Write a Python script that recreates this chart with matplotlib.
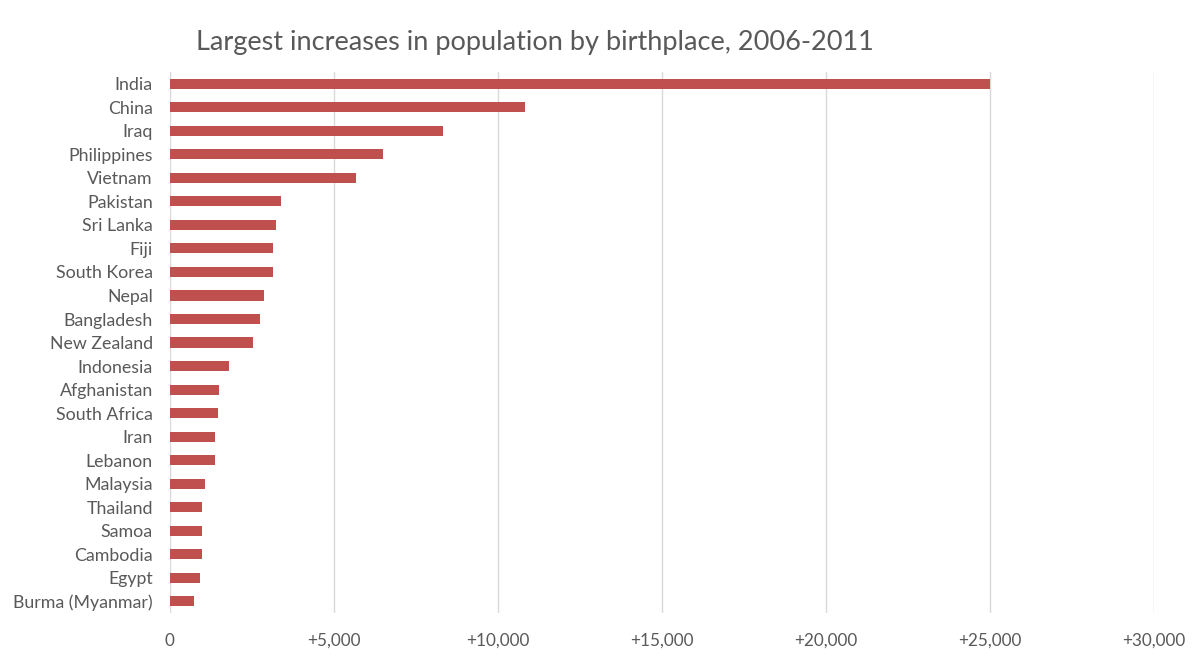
import matplotlib
matplotlib.use("Agg")
import matplotlib.pyplot as plt
from matplotlib.ticker import FuncFormatter, MultipleLocator

countries = ["India", "China", "Iraq", "Philippines", "Vietnam", "Pakistan", "Sri Lanka",
             "Fiji", "South Korea", "Nepal", "Bangladesh", "New Zealand", "Indonesia",
             "Afghanistan", "South Africa", "Iran", "Lebanon", "Malaysia", "Thailand",
             "Samoa", "Cambodia", "Egypt", "Burma (Myanmar)"]
increases = [25000, 10830, 8330, 6490, 5670, 3400, 3250, 3160, 3150, 2870, 2770, 2530,
             1810, 1515, 1470, 1375, 1375, 1085, 990, 990, 990, 935, 750]

plt.rcParams['font.family'] = ['Lato', 'DejaVu Sans']
text_color = "#595959"

fig = plt.figure(figsize=(12, 6.6), dpi=100)
ax = fig.add_axes([0.1413, 0.071, 0.8204, 0.820])

y = list(range(len(countries)))
ax.barh(y, increases, height=0.43, color="#C0504D", zorder=3)
ax.set_ylim(len(countries) - 0.5, -0.5)
ax.set_yticks(y)
ax.set_yticklabels(countries, fontsize=12.8, color=text_color)
ax.set_xlim(0, 30000)
ax.xaxis.set_major_locator(MultipleLocator(5000))
ax.xaxis.set_major_formatter(FuncFormatter(lambda v, p: "0" if v == 0 else f"+{int(v):,}"))
ax.tick_params(axis='x', labelsize=12.3, labelcolor=text_color, length=0, pad=14)
ax.tick_params(axis='y', length=0, pad=12)
ax.grid(axis='x', color="#D9D9D9", linewidth=1, zorder=0)
for s in ax.spines.values():
    s.set_visible(False)

fig.text(0.446, 0.936, "Largest increases in population by birthplace, 2006-2011",
         ha='center', va='center', fontsize=19.5, color=text_color)

fig.savefig("out.png", dpi=100, facecolor="white")
